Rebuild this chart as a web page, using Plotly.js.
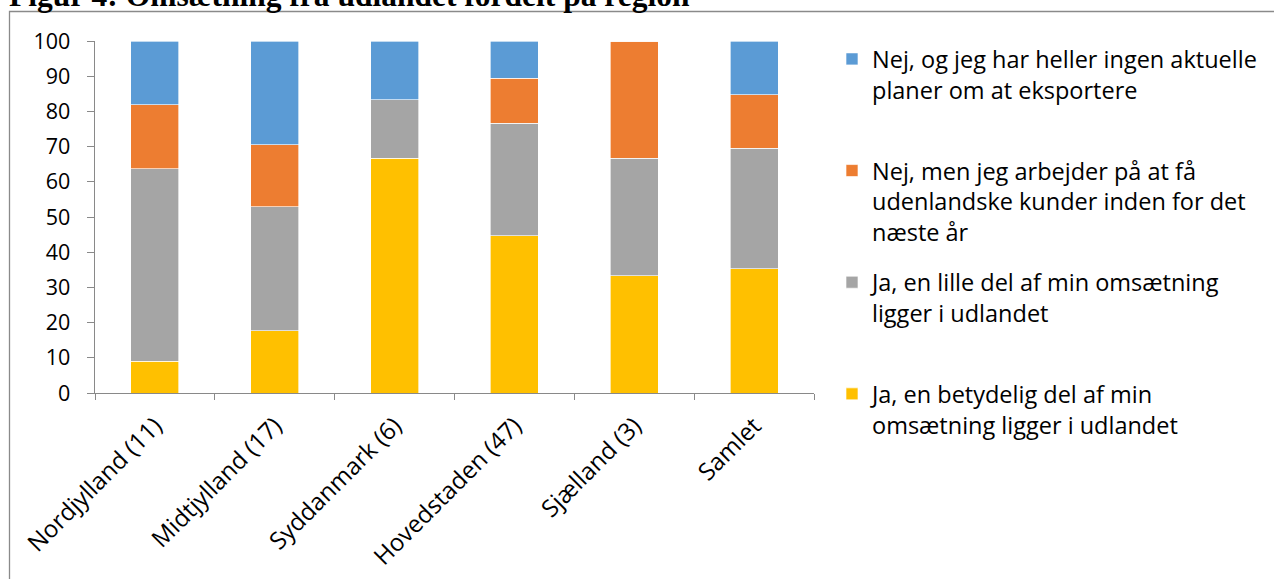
<!DOCTYPE html>
<html>
<head>
<meta charset="utf-8">
<script src="https://cdn.plot.ly/plotly-3.0.1.min.js"></script>
<style>
  html, body { margin: 0; padding: 0; background: #ffffff; }
  #chart { width: 1274px; height: 579px; }
</style>
</head>
<body>
<div id="chart"></div>
<script>
// Categories (regions, with number of respondents)
const categories = ['Nordjylland (11)', 'Midtjylland (17)', 'Syddanmark (6)', 'Hovedstaden (47)', 'Sjælland (3)', 'Samlet'];

// Series values (percent)
const betydeligDel = [9.09, 17.65, 66.67, 44.68, 33.33, 35.3];
const lilleDel     = [54.55, 35.29, 16.67, 31.91, 33.33, 34.2];
const arbejderPaa  = [18.18, 17.65, 0, 12.77, 33.34, 15.3];
const ingenPlaner  = [18.18, 29.41, 16.66, 10.64, 0, 15.2];

// Series names (legend)
const seriesNames = [
  'Ja, en betydelig del af min<br>omsætning ligger i udlandet',
  'Ja, en lille del af min omsætning<br>ligger i udlandet',
  'Nej, men jeg arbejder på at få<br>udenlandske kunder inden for det<br>næste år',
  'Nej, og jeg har heller ingen aktuelle<br>planer om at eksportere'
];
const seriesColors = ['#FFC000', '#A5A5A5', '#ED7D31', '#5B9BD5'];
const seriesValues = [betydeligDel, lilleDel, arbejderPaa, ingenPlaner];

const yTickVals = [0, 10, 20, 30, 40, 50, 60, 70, 80, 90, 100];

const titleText = 'Figur 4: Omsætning fra udlandet fordelt på region';

const FONT = 'Open Sans, Lato, sans-serif';
const AXIS_COLOR = '#898989';

// legend entries share the same height (3 lines), as in the reference
const legendLines = 3;
const padName = n => {
  const lines = n.split('<br>').length;
  return n + '<br>\u00a0'.repeat(legendLines - lines);
};

const traces = seriesValues.map((vals, i) => ({
  type: 'bar',
  name: padName(seriesNames[i]),
  x: categories,
  y: vals,
  legendgroup: 'g' + i,
  legendrank: seriesValues.length - i,
  marker: { color: seriesColors[i], line: { color: 'rgba(255,255,255,0.8)', width: 0.8 } },
  hoverinfo: 'x+y',
  hovertemplate: '%{x}: %{y}<extra></extra>'
}));

// plot area in pixels: x 95..814, y 41..393
const W = 1274, H = 579;
const L = 95, R = 814, T = 41, B = 393;
const px2x = p => (p - L) / (R - L);
const px2y = p => (B - p) / (B - T);

const layout = {
  width: W,
  height: H,
  margin: { l: L, r: W - R, t: T, b: H - B, pad: 0 },
  paper_bgcolor: '#ffffff',
  plot_bgcolor: '#ffffff',
  barmode: 'stack',
  bargap: 0.6,
  font: { family: FONT, size: 21, color: '#000000' },
  title: {
    text: titleText,
    font: { family: 'Liberation Serif, Times New Roman, serif', size: 31.5, color: '#000000', weight: 'bold' },
    xref: 'container', yref: 'container',
    x: 9 / W, xanchor: 'left',
    y: 1 - 5.5 / H, yanchor: 'bottom'
  },
  xaxis: {
    type: 'category',
    tickangle: -45,
    tickson: 'boundaries',
    ticks: 'outside',
    ticklen: 6,
    tickcolor: AXIS_COLOR,
    showline: true,
    linecolor: AXIS_COLOR,
    linewidth: 1.3,
    showgrid: false,
    zeroline: false,
    ticklabelstandoff: 8,
    tickfont: { family: FONT, size: 24, color: '#000000' }
  },
  yaxis: {
    range: [0, 100],
    tickvals: yTickVals,
    ticks: 'outside',
    ticklen: 7,
    tickcolor: AXIS_COLOR,
    showline: true,
    linecolor: AXIS_COLOR,
    linewidth: 1.3,
    showgrid: false,
    zeroline: false,
    ticklabelstandoff: 12,
    tickfont: { family: FONT, size: 21.5, color: '#000000' }
  },
  legend: {
    x: px2x(832), xanchor: 'left',
    y: 1.011, yanchor: 'top',
    traceorder: 'grouped',
    tracegroupgap: 17,
    valign: 'top',
    maxheight: 1,
    font: { family: FONT, size: 23.5, color: '#000000' },
    bgcolor: 'rgba(0,0,0,0)'
  },
  shapes: [{
    type: 'path',
    xref: 'paper', yref: 'paper',
    path: 'M ' + px2x(9.5) + ',' + px2y(590) + ' L ' + px2x(9.5) + ',' + px2y(11.5) + ' L ' + px2x(1290) + ',' + px2y(11.5),
    line: { color: '#8a8a8a', width: 1.3 },
    layer: 'below'
  }]
};

Plotly.newPlot('chart', traces, layout, { displayModeBar: false, staticPlot: true });
</script>
</body>
</html>
